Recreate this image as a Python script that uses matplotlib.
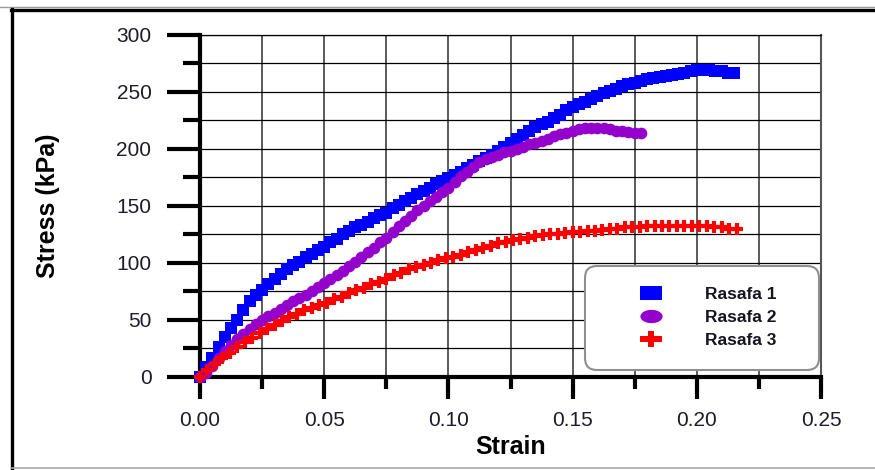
import matplotlib
matplotlib.use("Agg")
import matplotlib.pyplot as plt
from matplotlib.lines import Line2D
from matplotlib.path import Path
from matplotlib.ticker import MultipleLocator, FormatStrFormatter
import numpy as np

# ---- data -------------------------------------------------------------
strain_r1 = [0.0000, 0.0025, 0.0050, 0.0075, 0.0100, 0.0125, 0.0150, 0.0175,
             0.0200, 0.0225, 0.0250, 0.0275, 0.0300, 0.0325, 0.0350, 0.0375,
             0.0400, 0.0425, 0.0450, 0.0475, 0.0500, 0.0525, 0.0550, 0.0575,
             0.0600, 0.0625, 0.0650, 0.0675, 0.0700, 0.0725, 0.0750, 0.0775,
             0.0800, 0.0825, 0.0850, 0.0875, 0.0900, 0.0925, 0.0950, 0.0975,
             0.1000, 0.1025, 0.1050, 0.1075, 0.1100, 0.1125, 0.1150, 0.1175,
             0.1200, 0.1225, 0.1250, 0.1275, 0.1300, 0.1325, 0.1350, 0.1375,
             0.1400, 0.1425, 0.1450, 0.1475, 0.1500, 0.1525, 0.1550, 0.1575,
             0.1600, 0.1625, 0.1650, 0.1675, 0.1700, 0.1725, 0.1750, 0.1775,
             0.1800, 0.1825, 0.1850, 0.1875, 0.1900, 0.1925, 0.1950, 0.1975,
             0.2000, 0.2025, 0.2050, 0.2075, 0.2100, 0.2125, 0.2150]
stress_r1 = [0, 8, 16, 26, 35, 43, 50, 58,
             66, 72, 76, 81, 86, 90, 94, 98,
             101, 105, 108, 111, 114, 118, 121, 125,
             128, 131, 133, 136, 139, 142, 144, 148,
             151, 154, 157, 160, 163, 166, 169, 172,
             174, 177, 180, 183, 186, 189, 192, 195,
             198, 202, 205, 209, 212, 216, 219, 222,
             224, 227, 230, 234, 237, 239, 241, 244,
             246, 249, 251, 253, 255, 257, 258, 260,
             261, 262, 263, 264, 265, 266, 267, 268,
             269, 269, 269, 268, 268, 267, 267]

strain_r2 = [0.0000, 0.0025, 0.0050, 0.0075, 0.0100, 0.0125, 0.0150, 0.0175,
             0.0200, 0.0225, 0.0250, 0.0275, 0.0300, 0.0325, 0.0350, 0.0375,
             0.0400, 0.0425, 0.0450, 0.0475, 0.0500, 0.0525, 0.0550, 0.0575,
             0.0600, 0.0625, 0.0650, 0.0675, 0.0700, 0.0725, 0.0750, 0.0775,
             0.0800, 0.0825, 0.0850, 0.0875, 0.0900, 0.0925, 0.0950, 0.0975,
             0.1000, 0.1025, 0.1050, 0.1075, 0.1100, 0.1125, 0.1150, 0.1175,
             0.1200, 0.1225, 0.1250, 0.1275, 0.1300, 0.1325, 0.1350, 0.1375,
             0.1400, 0.1425, 0.1450, 0.1475, 0.1500, 0.1525, 0.1550, 0.1575,
             0.1600, 0.1625, 0.1650, 0.1675, 0.1700, 0.1725, 0.1750, 0.1775]
stress_r2 = [0, 3, 9, 16, 22, 28, 33, 37,
             42, 46, 50, 53, 56, 59, 63, 66,
             69, 72, 75, 79, 82, 86, 89, 93,
             97, 101, 105, 109, 113, 118, 122, 127,
             132, 137, 141, 146, 150, 154, 158, 162,
             166, 171, 176, 180, 184, 188, 191, 193,
             195, 197, 198, 200, 202, 204, 205, 207,
             209, 211, 213, 214, 216, 217, 218, 218,
             218, 218, 217, 216, 216, 215, 214, 214]

strain_r3 = [0.000, 0.003, 0.006, 0.009, 0.012, 0.015, 0.018, 0.021, 0.024,
             0.027, 0.030, 0.033, 0.036, 0.039, 0.042, 0.045, 0.048, 0.051,
             0.054, 0.057, 0.060, 0.063, 0.066, 0.069, 0.072, 0.075, 0.078,
             0.081, 0.084, 0.087, 0.090, 0.093, 0.096, 0.099, 0.102, 0.105,
             0.108, 0.111, 0.114, 0.117, 0.120, 0.123, 0.126, 0.129, 0.132,
             0.135, 0.138, 0.141, 0.144, 0.147, 0.150, 0.153, 0.156, 0.159,
             0.162, 0.165, 0.168, 0.171, 0.174, 0.177, 0.180, 0.183, 0.186,
             0.189, 0.192, 0.195, 0.198, 0.201, 0.204, 0.207, 0.210, 0.213,
             0.216]
stress_r3 = [0, 6, 11, 16, 21, 26, 30, 34, 38,
             42, 45, 49, 52, 55, 58, 60, 63, 65,
             68, 70, 73, 76, 78, 81, 83, 86, 89,
             91, 94, 96, 98, 100, 102, 104, 105, 107,
             109, 111, 113, 115, 117, 118, 120, 121, 122,
             123, 124, 125, 125, 126, 127, 127, 128, 128,
             129, 130, 130, 131, 131, 131, 132, 132, 132,
             132, 132, 132, 132, 132, 132, 131, 131, 130,
             130]

series_labels = ["Rasafa 1", "Rasafa 2", "Rasafa 3"]
series_colors = ["#0000ff", "#9400cc", "#ff0000"]

x_ticks = [0.00, 0.05, 0.10, 0.15, 0.20, 0.25]
y_ticks = [0, 50, 100, 150, 200, 250, 300]

# ---- figure -----------------------------------------------------------
plt.rcParams["font.family"] = ["Liberation Sans", "DejaVu Sans"]

fig = plt.figure(figsize=(8.75, 4.70), dpi=100)
fig.patch.set_facecolor("white")

W, H = 875.0, 470.0
ax = fig.add_axes([200 / W, 1 - 376.5 / H, 621 / W, 341.5 / H])

ax.plot(strain_r1, stress_r1, linestyle="none", marker="s", markersize=8.6,
        color=series_colors[0], markeredgewidth=0, clip_on=False, zorder=3)
ax.plot(strain_r2, stress_r2, linestyle="none", marker="o", markersize=8.4,
        color=series_colors[1], markeredgewidth=0, clip_on=False, zorder=4)
ax.plot(strain_r3, stress_r3, linestyle="none", marker="+", markersize=8.8,
        color=series_colors[2], markeredgewidth=3.0, clip_on=False, zorder=5)

ax.set_xlim(0, 0.25)
ax.set_ylim(0, 300)
ax.set_xticks(x_ticks)
ax.set_yticks(y_ticks)
ax.xaxis.set_minor_locator(MultipleLocator(0.025))
ax.yaxis.set_minor_locator(MultipleLocator(25))
ax.xaxis.set_major_formatter(FormatStrFormatter("%.2f"))

tick_color = "#1c1c2a"
ax.tick_params(axis="y", which="major", direction="out", length=24, width=3,
               color="black", labelsize=15, labelcolor=tick_color, pad=11)
ax.tick_params(axis="y", which="minor", direction="out", length=12, width=3,
               color="black")
ax.tick_params(axis="x", which="major", direction="out", length=16, width=3,
               color="black", labelsize=15, labelcolor=tick_color, pad=9)
ax.tick_params(axis="x", which="minor", direction="out", length=8.5, width=3,
               color="black")

ax.set_axisbelow(True)
ax.grid(which="both", axis="y", color="black", linewidth=0.9)
ax.grid(which="both", axis="x", color="#5a5a5a", linewidth=1.4)

ax.spines["left"].set_linewidth(3)
ax.spines["bottom"].set_linewidth(3)
ax.spines["right"].set_linewidth(1.5)
ax.spines["right"].set_color("#555555")
ax.spines["top"].set_linewidth(0.9)

ax.set_xlabel("Strain", fontsize=18, fontweight="bold")
ax.set_ylabel("Stress (kPa)", fontsize=18, fontweight="bold")
ax.xaxis.set_label_coords(0.5, -0.17)
ax.yaxis.set_label_coords(-0.226, 0.5)

# ---- legend with wide handle glyphs --------------------------------------
rect_path = Path([(-1, -0.6), (1, -0.6), (1, 0.6), (-1, 0.6), (-1, -0.6)],
                 [Path.MOVETO, Path.LINETO, Path.LINETO, Path.LINETO,
                  Path.CLOSEPOLY])
t = np.linspace(0, 2 * np.pi, 60)
ellipse_path = Path(np.column_stack([np.cos(t), 0.6 * np.sin(t)]))
a, b, c = 0.30, 0.24, 0.70
cross_path = Path([(-a, c), (a, c), (a, b), (1, b), (1, -b), (a, -b),
                   (a, -c), (-a, -c), (-a, -b), (-1, -b), (-1, b), (-a, b),
                   (-a, c)])

handles = [
    Line2D([], [], linestyle="none", marker=rect_path, markersize=16.5,
           markerfacecolor=series_colors[0], markeredgewidth=0),
    Line2D([], [], linestyle="none", marker=ellipse_path, markersize=16,
           markerfacecolor=series_colors[1], markeredgewidth=0),
    Line2D([], [], linestyle="none", marker=cross_path, markersize=16.5,
           markerfacecolor=series_colors[2], markeredgewidth=0),
]
leg = ax.legend(handles, series_labels, loc="lower left",
                bbox_to_anchor=(0.62, 0.019, 0.377, 0.3), mode="expand",
                borderaxespad=0, numpoints=1, frameon=True, fancybox=True,
                prop={"size": 12.5, "weight": "bold"}, borderpad=1.25,
                labelspacing=0.45, handlelength=5.1, handletextpad=0.55)
frame = leg.get_frame()
frame.set_boxstyle("round", pad=0, rounding_size=0.7)
frame.set_edgecolor("#8f8f8f")
frame.set_linewidth(1.5)
frame.set_facecolor("white")
frame.set_alpha(1)
leg.set_zorder(10)
for txt in leg.get_texts():
    txt.set_color("#15151f")

# ---- outer frame --------------------------------------------------------
fig.add_artist(Line2D([0, 1], [1 - 6.5 / H, 1 - 6.5 / H], color="#9a9a9a",
                      linewidth=1.0, transform=fig.transFigure))
fig.add_artist(Line2D([11 / W, 1], [1 - 10 / H, 1 - 10 / H], color="black",
                      linewidth=2.4, transform=fig.transFigure))
fig.add_artist(Line2D([12 / W, 12 / W], [0, 1 - 9 / H], color="black",
                      linewidth=2.4, transform=fig.transFigure))
fig.add_artist(Line2D([12 / W, 1], [1 - 468 / H, 1 - 468 / H], color="#a8a8a8",
                      linewidth=1.2, transform=fig.transFigure))

fig.savefig("out.png", dpi=100, facecolor="white")
